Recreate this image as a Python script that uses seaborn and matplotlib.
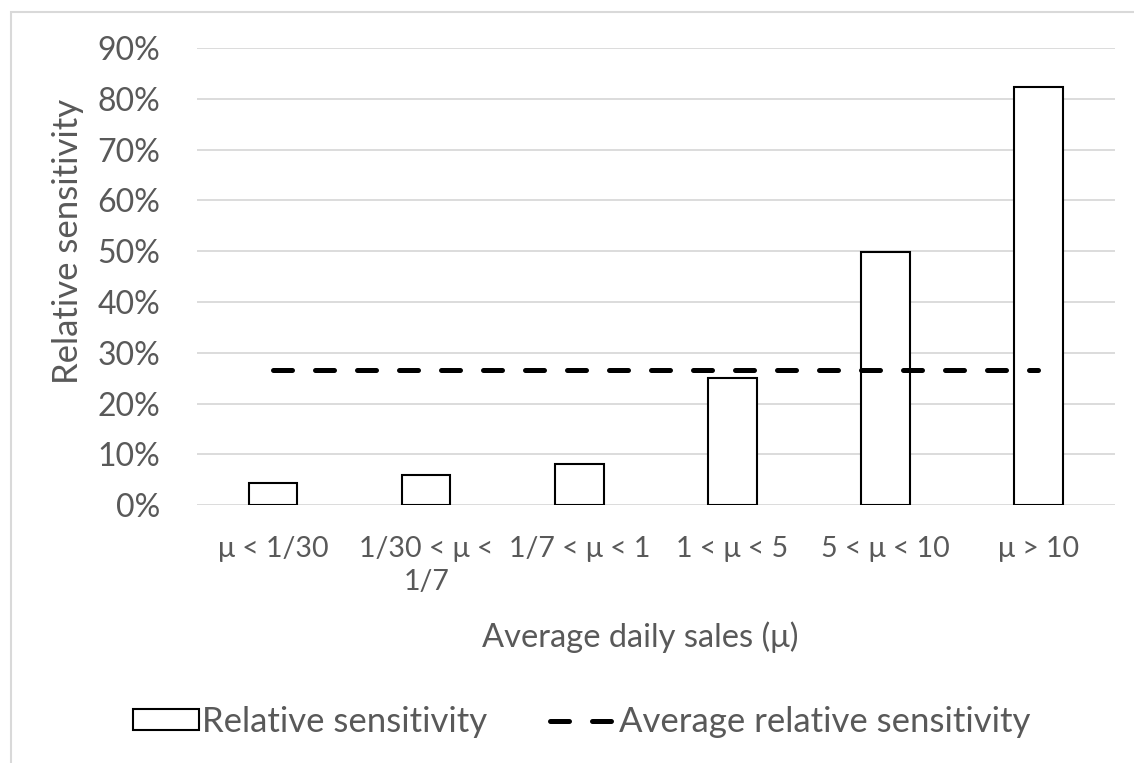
import matplotlib
matplotlib.use("Agg")
import matplotlib.pyplot as plt
import matplotlib.patches as mpatches
from matplotlib.lines import Line2D
from matplotlib.ticker import PercentFormatter
import seaborn as sns
import pandas as pd

# Sales-rate buckets and the relative sensitivity measured for each
categories = ["μ < 1/30", "1/30 < μ <\n1/7", "1/7 < μ < 1", "1 < μ < 5", "5 < μ < 10", "μ > 10"]
relative_sensitivity = [0.043, 0.059, 0.081, 0.250, 0.498, 0.824]
average_relative_sensitivity = 0.266

y_ticks = [0.0, 0.1, 0.2, 0.3, 0.4, 0.5, 0.6, 0.7, 0.8, 0.9]

sns.set_theme(style="white")
plt.rcParams["font.family"] = ["Lato", "DejaVu Sans"]

TEXT = "#595959"
GRID = "#d9d9d9"
FS_Y = 23
FS_X = 20.5
FS_LAB = 25

df = pd.DataFrame({"bucket": categories, "sensitivity": relative_sensitivity})
avg_df = pd.DataFrame({"pos": list(range(len(categories))),
                       "avg": [average_relative_sensitivity] * len(categories)})

fig = plt.figure(figsize=(11.34, 7.63), dpi=100)
ax = fig.add_axes([196.7 / 1134, 1 - 505.3 / 763, 918.3 / 1134, 457.3 / 763])

sns.barplot(data=df, x="bucket", y="sensitivity", ax=ax, width=0.316,
            color="white", edgecolor="black", linewidth=1.5, zorder=3)
sns.lineplot(data=avg_df, x="pos", y="avg", ax=ax, color="black",
             linewidth=3.6, zorder=4, legend=False)
line = ax.lines[-1]
line.set_dashes([3.8, 4.6])
line.set_dash_capstyle("round")

ax.set_xlim(-0.5, len(categories) - 0.5)
ax.set_ylim(0, 0.9)
ax.set_yticks(y_ticks)
ax.yaxis.set_major_formatter(PercentFormatter(1.0, decimals=0))
ax.grid(axis="y", color=GRID, linewidth=1.3, zorder=0)
ax.grid(axis="x", visible=False)
for s in ax.spines.values():
    s.set_visible(False)
ax.tick_params(axis="y", length=0, pad=26, labelsize=FS_Y, labelcolor=TEXT)
ax.tick_params(axis="x", length=0, pad=22, labelsize=FS_X, labelcolor=TEXT)
for lab in ax.get_xticklabels():
    lab.set_linespacing(1.35)

ax.set_xlabel("Average daily sales (μ)", fontsize=23.5, color=TEXT)
ax.xaxis.set_label_coords((640 - 196.7) / 918.3, (505.3 - 637) / 457.3)
ax.xaxis.label.set_va("center")
ax.set_ylabel("Relative sensitivity", fontsize=FS_LAB, color=TEXT)
ax.yaxis.set_label_coords((68 - 196.7) / 918.3, (505.3 - 241.5) / 457.3)
ax.yaxis.label.set_va("center")

handles = [
    mpatches.Patch(facecolor="white", edgecolor="black", linewidth=1.5,
                   label="Relative sensitivity"),
    Line2D([0], [0], color="black", linewidth=3.6, dashes=[3.8, 4.6],
           dash_capstyle="round", label="Average relative sensitivity"),
]
leg = fig.legend(handles=handles, loc="center", ncol=2, frameon=False,
                 bbox_to_anchor=(581.5 / 1134, 1 - 722 / 763),
                 fontsize=FS_LAB, labelcolor=TEXT, handlelength=1.9,
                 handleheight=0.55, handletextpad=0.1, columnspacing=1.8)

# Light outline of the chart area
fig.add_artist(mpatches.Rectangle((10.5 / 1134, -0.1), 1.2, 1.1 - 12 / 763,
                                  transform=fig.transFigure, fill=False,
                                  edgecolor=GRID, linewidth=1.5))

fig.savefig("out.png", dpi=100)
